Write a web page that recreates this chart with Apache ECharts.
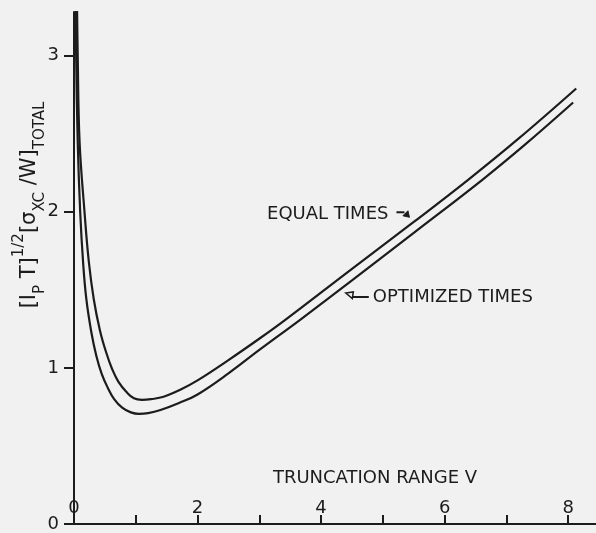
<!DOCTYPE html>
<html>
<head>
<meta charset="utf-8">
<script src="https://cdn.jsdelivr.net/npm/echarts@6/dist/echarts.min.js"></script>
<style>
  html, body { margin: 0; padding: 0; background: #f1f1f1; }
  #chart { width: 596px; height: 533px; }
</style>
</head>
<body>
<div id="chart"></div>
<script>
// Normalised total error versus truncation range V, for two counting-time schemes
const equalTimesV = [0.045, 0.06, 0.09, 0.17, 0.24, 0.32, 0.42, 0.52, 0.62, 0.72, 0.85, 0.97, 1.1, 1.25, 1.45, 1.72, 2.0, 2.5, 3.01, 3.42, 4.5, 5.5, 6.38, 7.2, 8.13];
const equalTimesY = [3.45, 3.0, 2.45, 2.0, 1.68, 1.44, 1.24, 1.10, 0.99, 0.91, 0.845, 0.805, 0.795, 0.80, 0.815, 0.86, 0.92, 1.05, 1.19, 1.308, 1.635, 1.935, 2.205, 2.47, 2.79];

const optimizedV = [0.025, 0.035, 0.06, 0.10, 0.15, 0.20, 0.28, 0.36, 0.45, 0.55, 0.65, 0.78, 0.92, 1.05, 1.2, 1.4, 1.7, 2.0, 2.5, 3.0, 3.66, 4.5, 5.5, 6.61, 7.3, 8.08];
const optimizedY = [3.45, 3.0, 2.45, 2.0, 1.66, 1.44, 1.23, 1.08, 0.96, 0.87, 0.80, 0.745, 0.715, 0.705, 0.71, 0.73, 0.775, 0.83, 0.965, 1.115, 1.308, 1.56, 1.865, 2.205, 2.43, 2.70];

// Axis ticks and labels
const xTickValues = [0, 1, 2, 3, 4, 5, 6, 7, 8];
const xLabelValues = [0, 2, 4, 6, 8];
const yTickValues = [0, 1, 2, 3];

// Curve labels and where their pointer arrows end (data units)
const equalLabel = 'EQUAL TIMES';
const optimizedLabel = 'OPTIMIZED TIMES';
const xTitle = 'TRUNCATION RANGE V';
const equalArrowTip = [5.43, 1.965];
const optimizedArrowTip = [4.40, 1.48];

const ink = '#1c1c1c';
const face = 'DejaVu Sans';

const zip = (xs, ys) => xs.map((x, i) => [x, ys[i]]);

const chart = echarts.init(document.getElementById('chart'), null, { renderer: 'canvas' });

const curveStyle = { color: ink, width: 2.2 };

chart.setOption({
  backgroundColor: '#f1f1f1',
  animation: false,
  grid: { left: 74, right: 0, top: 12, bottom: 9, containLabel: false, outerBoundsMode: 'none' },
  xAxis: {
    type: 'value', min: 0, max: 8.45, interval: 1,
    axisLine: { show: true, onZero: false, lineStyle: { color: ink, width: 2 } },
    axisTick: { show: true, inside: true, length: 9, customValues: xTickValues, lineStyle: { color: ink, width: 2 } },
    axisLabel: {
      inside: true, margin: 7, customValues: xLabelValues,
      color: ink, fontFamily: face, fontSize: 18,
      formatter: v => (xLabelValues.includes(v) ? String(v) : '')
    },
    splitLine: { show: false }
  },
  yAxis: {
    type: 'value', min: 0, max: 3.28, interval: 1,
    axisLine: { show: true, onZero: false, lineStyle: { color: ink, width: 2 } },
    axisTick: { show: true, inside: false, length: 10, customValues: yTickValues, lineStyle: { color: ink, width: 2 } },
    axisLabel: {
      margin: 15, customValues: yTickValues,
      color: ink, fontFamily: face, fontSize: 18,
      formatter: v => (yTickValues.includes(v) ? String(v) : '')
    },
    splitLine: { show: false }
  },
  series: [
    {
      name: equalLabel, type: 'line', data: zip(equalTimesV, equalTimesY),
      smooth: 0.4, symbol: 'none', clip: true,
      lineStyle: curveStyle
    },
    {
      name: optimizedLabel, type: 'line', data: zip(optimizedV, optimizedY),
      smooth: 0.4, symbol: 'none', clip: true,
      lineStyle: curveStyle
    }
  ]
});

// Annotations: axis titles, curve labels and their pointers
const px = p => chart.convertToPixel({ gridIndex: 0 }, p);
const eq = px(equalArrowTip);
const op = px(optimizedArrowTip);

const yTitleRich = {
  m: { fontFamily: face, fontSize: 21, lineHeight: 36, verticalAlign: 'middle', fill: ink },
  sup: { fontFamily: face, fontSize: 15, lineHeight: 15, verticalAlign: 'top', fill: ink },
  sub: { fontFamily: face, fontSize: 15, lineHeight: 15, verticalAlign: 'bottom', fill: ink }
};

chart.setOption({
  graphic: [
    {
      type: 'text', x: 30, y: 205, rotation: Math.PI / 2,
      style: {
        text: '{m|[I}{sub|P}{m| T]}{sup|1/2}{m|[σ}{sub|XC}{m| /W]}{sub|TOTAL}',
        rich: yTitleRich, align: 'center', verticalAlign: 'middle', fill: ink
      }
    },
    {
      type: 'text', x: 375, y: 478,
      style: { text: xTitle, fontFamily: face, fontSize: 18, fill: ink, align: 'center', verticalAlign: 'middle' }
    },
    {
      type: 'text', x: eq[0] - 21, y: eq[1] - 3,
      style: { text: equalLabel, fontFamily: face, fontSize: 18, fill: ink, align: 'right', verticalAlign: 'middle' }
    },
    {
      type: 'polyline',
      shape: { points: [[eq[0] - 13, eq[1] - 5], [eq[0] - 5, eq[1] - 5]] },
      style: { stroke: ink, lineWidth: 2, fill: null }
    },
    {
      type: 'polygon',
      shape: { points: [[eq[0], eq[1]], [eq[0] - 6.5, eq[1] - 1.5], [eq[0] - 1.5, eq[1] - 6.5]] },
      style: { fill: ink, stroke: ink, lineWidth: 1 }
    },
    {
      type: 'text', x: op[0] + 27, y: op[1] + 4,
      style: { text: optimizedLabel, fontFamily: face, fontSize: 18, fill: ink, align: 'left', verticalAlign: 'middle' }
    },
    {
      type: 'polyline',
      shape: { points: [[op[0] + 23, op[1] + 4], [op[0] + 7, op[1] + 4]] },
      style: { stroke: ink, lineWidth: 2, fill: null }
    },
    {
      type: 'polygon',
      shape: { points: [[op[0], op[1]], [op[0] + 7.5, op[1] - 1], [op[0] + 6.5, op[1] + 5.5]] },
      style: { fill: '#f1f1f1', stroke: ink, lineWidth: 1.5 }
    }
  ]
});
</script>
</body>
</html>
